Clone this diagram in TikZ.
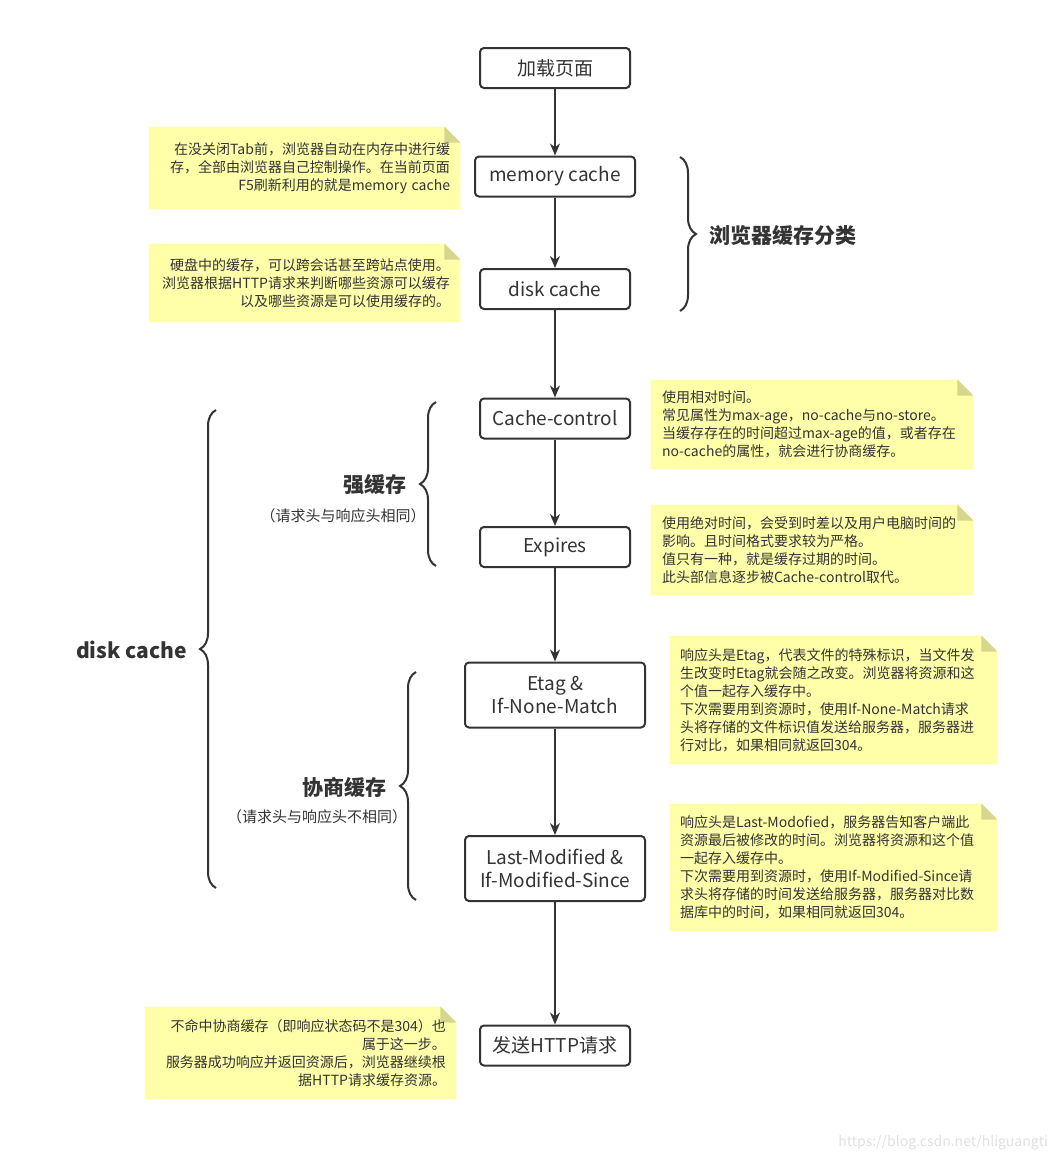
\documentclass[tikz,border=0pt]{standalone}
\usepackage{fontspec}
\setmainfont{Noto Sans CJK SC}
\usepackage{tikz}
\usetikzlibrary{positioning,arrows.meta,decorations.pathreplacing,backgrounds}

\definecolor{notefill}{RGB}{255,255,170}
\definecolor{notefold}{RGB}{214,214,140}
\definecolor{ink}{RGB}{51,51,51}

% yellow sticky paper with a folded corner, behind a note node
\newcommand{\stickypaper}[1]{%
  \fill[notefill] (#1.north west) -- ([xshift=-8pt]#1.north east)
    -- ([yshift=-8pt]#1.north east) -- (#1.south east) -- (#1.south west) -- cycle;
  \fill[notefold] ([xshift=-8pt]#1.north east) -- ([yshift=-8pt]#1.north east)
    -- ([xshift=-8pt,yshift=-8pt]#1.north east) -- cycle;}

\begin{document}
\begin{tikzpicture}[x=0.5pt,y=-0.5pt,
		box/.style={draw=black!80,line width=1pt,rounded corners=2pt,fill=white,text=ink,
			minimum width=75pt,minimum height=20pt,inner ysep=1pt,align=center,font=\fontsize{9.5}{11.5}\selectfont},
		flow/.style={<-,line width=1pt,draw=black!80},
		note/.style={text=ink,inner ysep=0pt,font=\fontsize{7}{9}\selectfont},
		curly/.style={decorate,decoration={brace,amplitude=8pt},line width=1pt,draw=black!80},
		tag/.style={text=ink,font=\fontsize{10.5}{12}\selectfont\bfseries},
		subtag/.style={text=ink,font=\fontsize{7.5}{9}\selectfont},
		>={Stealth[length=6pt,width=5pt]}]

	\useasboundingbox (0,0) rectangle (1059,1162);

	% main flow
	\node[box] (load) at (555,68) {加载页面};
	\node[box,minimum width=80pt] (memory) [below=33.25pt of load] {memory cache}
		edge[flow] (load);
	\node[box] (disk) [below=35.25pt of memory] {disk cache}
		edge[flow] (memory);
	\node[box] (cachectl) [below=43.75pt of disk] {Cache-control}
		edge[flow] (disk);
	\node[box] (expires) [below=43.25pt of cachectl] {Expires}
		edge[flow] (cachectl);
	\node[box,minimum width=90pt,minimum height=32.5pt] (etag) [below=46.75pt of expires] {Etag \&\\If-None-Match}
		edge[flow] (expires);
	\node[box,minimum width=90pt,minimum height=32.5pt] (lastmod) [below=53.25pt of etag] {Last-Modified \&\\If-Modified-Since}
		edge[flow] (etag);
	\node[box] (send) [below=61.25pt of lastmod] {发送HTTP请求}
		edge[flow] (lastmod);

	% notes
	\node[note,align=right,text width=145.5pt,inner xsep=5pt,minimum height=41pt] (memnote) at (304.5,168)
		{在没关闭Tab前，浏览器自动在内存中进行缓\\存，全部由浏览器自己控制操作。在当前页面\\F5刷新利用的就是memory cache};
	\node[note,align=right,text width=145.5pt,inner xsep=5pt,minimum height=39pt] (disknote) at (304.5,283)
		{硬盘中的缓存，可以跨会话甚至跨站点使用。\\浏览器根据HTTP请求来判断哪些资源可以缓存\\以及哪些资源是可以使用缓存的。};
	\node[note,align=left,text width=150pt,inner xsep=5.5pt,minimum height=44.5pt] (ctlnote) at (812,424.5)
		{使用相对时间。\\常见属性为max-age，no-cache与no-store。\\当缓存存在的时间超过max-age的值，或者存在\\no-cache的属性，就会进行协商缓存。};
	\node[note,align=left,text width=150pt,inner xsep=5.5pt,minimum height=45pt] (expnote) at (812,550)
		{使用绝对时间，会受到时差以及用户电脑时间的\\影响。且时间格式要求较为严格。\\值只有一种，就是缓存过期的时间。\\此头部信息逐步被Cache-control取代。};
	\node[note,align=left,text width=153.5pt,inner xsep=5pt,minimum height=64pt] (etagnote) at (833.5,700)
		{响应头是Etag，代表文件的特殊标识，当文件发\\生改变时Etag就会随之改变。浏览器将资源和这\\个值一起存入缓存中。\\下次需要用到资源时，使用If-None-Match请求\\头将存储的文件标识值发送给服务器，服务器进\\行对比，如果相同就返回304。};
	\node[note,align=left,text width=153.5pt,inner xsep=5pt,minimum height=63.5pt] (modnote) at (833.5,867.5)
		{响应头是Last-Modofied，服务器告知客户端此\\资源最后被修改的时间。浏览器将资源和这个值\\一起存入缓存中。\\下次需要用到资源时，使用If-Modified-Since请\\求头将存储的时间发送给服务器，服务器对比数\\据库中的时间，如果相同就返回304。};
	\node[note,align=right,text width=145.5pt,inner xsep=5pt,minimum height=46pt] (sendnote) at (300.5,1053)
		{不命中协商缓存（即响应状态码不是304）也\\属于这一步。\\服务器成功响应并返回资源后，浏览器继续根\\据HTTP请求缓存资源。};

	\begin{scope}[on background layer]
		\foreach \n in {memnote,disknote,ctlnote,expnote,etagnote,modnote,sendnote}
			{\stickypaper{\n}}
	\end{scope}

	% braces and their labels
	\draw[curly] (680,157) -- (680,311);
	\node[tag,anchor=west] (kindtag) at (702,236) {浏览器缓存分类};
	\draw[curly] (216,888) -- (216,410);
	\node[tag,anchor=east] (disktag) at (194,650) {disk cache};
	\draw[curly] (436,566) -- (436,402);
	\node[tag,anchor=east] (strongtag) at (414,485) {强缓存};
	\node[subtag] (strongsub) at (343,516) {（请求头与响应头相同）};
	\draw[curly] (416,900) -- (416,672);
	\node[tag,anchor=east] (negotag) at (394,787) {协商缓存};
	\node[subtag] (negosub) at (317,817) {（请求头与响应头不相同）};

	\node[text=black!12,font=\fontsize{7}{8}\selectfont,anchor=east] (mark) at (1055,1143) {https://blog.csdn.net/hliguangti};
\end{tikzpicture}
\end{document}
